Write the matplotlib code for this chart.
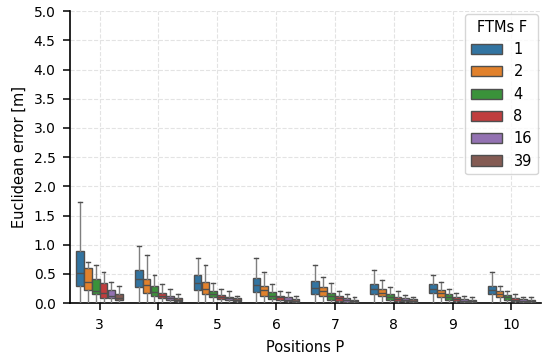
import matplotlib.pyplot as plt
import matplotlib.patches as mpatches
import numpy as np

# Positions P on the x axis, FTMs F as hue
positions = [3, 4, 5, 6, 7, 8, 9, 10]
ftms = [1, 2, 4, 8, 16, 39]
colors = ['#3274a1', '#e1812c', '#3a923a', '#c03d3e', '#9372b2', '#845b53']

# box stats, one row per FTM, one column per position
q1 = [
    [0.29, 0.27, 0.22, 0.19, 0.16, 0.15, 0.17, 0.15],
    [0.22, 0.17, 0.15, 0.13, 0.13, 0.12, 0.11, 0.10],
    [0.15, 0.13, 0.10, 0.07, 0.06, 0.06, 0.06, 0.06],
    [0.09, 0.08, 0.07, 0.05, 0.04, 0.04, 0.04, 0.03],
    [0.08, 0.05, 0.05, 0.03, 0.02, 0.03, 0.02, 0.02],
    [0.05, 0.04, 0.03, 0.02, 0.02, 0.02, 0.02, 0.02],
]
med = [
    [0.52, 0.42, 0.34, 0.31, 0.26, 0.24, 0.25, 0.23],
    [0.36, 0.31, 0.25, 0.22, 0.21, 0.18, 0.17, 0.15],
    [0.21, 0.19, 0.15, 0.12, 0.12, 0.11, 0.11, 0.10],
    [0.17, 0.12, 0.10, 0.10, 0.08, 0.07, 0.07, 0.06],
    [0.13, 0.09, 0.08, 0.06, 0.06, 0.05, 0.04, 0.04],
    [0.08, 0.06, 0.05, 0.04, 0.04, 0.04, 0.03, 0.03],
]
q3 = [
    [0.89, 0.57, 0.48, 0.43, 0.38, 0.32, 0.33, 0.30],
    [0.60, 0.42, 0.36, 0.30, 0.28, 0.24, 0.22, 0.20],
    [0.41, 0.29, 0.21, 0.19, 0.18, 0.16, 0.15, 0.14],
    [0.34, 0.18, 0.14, 0.13, 0.12, 0.11, 0.10, 0.09],
    [0.22, 0.13, 0.11, 0.10, 0.09, 0.09, 0.07, 0.07],
    [0.16, 0.09, 0.08, 0.07, 0.06, 0.07, 0.06, 0.06],
]
whishi = [
    [1.73, 0.98, 0.77, 0.77, 0.65, 0.56, 0.48, 0.53],
    [0.70, 0.82, 0.65, 0.54, 0.44, 0.39, 0.36, 0.30],
    [0.65, 0.48, 0.35, 0.32, 0.34, 0.27, 0.24, 0.21],
    [0.53, 0.33, 0.24, 0.20, 0.20, 0.20, 0.18, 0.15],
    [0.37, 0.24, 0.20, 0.19, 0.16, 0.14, 0.13, 0.11],
    [0.30, 0.15, 0.13, 0.13, 0.11, 0.10, 0.10, 0.10],
]
whislo = 0.01

plt.rcParams['axes.linewidth'] = 1.2
plt.rcParams['xtick.major.size'] = 5
plt.rcParams['ytick.major.size'] = 5
plt.rcParams['xtick.major.width'] = 1.1
plt.rcParams['ytick.major.width'] = 1.1
plt.rcParams['xtick.major.pad'] = 5.5
plt.rcParams['ytick.major.pad'] = 5.5

fig, ax = plt.subplots(figsize=(5.44, 3.6), dpi=100)

edge = '#4f4f4f'
whisk = '#7f7f7f'
n = len(ftms)
w = 0.8 / n
for j, f in enumerate(ftms):
    stats = []
    xs = []
    for i, p in enumerate(positions):
        stats.append(dict(med=med[j][i], q1=q1[j][i], q3=q3[j][i],
                          whislo=whislo, whishi=whishi[j][i], fliers=[]))
        xs.append(i + (j - (n - 1) / 2) * w)
    ax.bxp(stats, positions=xs, widths=w * 0.98, patch_artist=True,
           showfliers=False, capwidths=w * 0.5,
           boxprops=dict(facecolor=colors[j], edgecolor=edge, linewidth=1.0),
           medianprops=dict(color=edge, linewidth=1.0),
           whiskerprops=dict(color=whisk, linewidth=1.0),
           capprops=dict(color=edge, linewidth=1.0),
           manage_ticks=False, zorder=3)

ax.set_xlim(-0.5, len(positions) - 0.5)
ax.set_ylim(0, 5.0)
ax.set_yticks(np.arange(0, 5.01, 0.5))
ax.set_yticklabels([f'{v:.1f}' for v in np.arange(0, 5.01, 0.5)])
ax.set_xticks(range(len(positions)))
ax.set_xticklabels([str(p) for p in positions])
ax.tick_params(labelsize=10)
ax.set_xlabel('Positions P', fontsize=10.5, labelpad=6)
ax.set_ylabel('Euclidean error [m]', fontsize=10.5, labelpad=5)
ax.grid(True, linestyle='--', color='#e3e3e3', linewidth=0.8, zorder=0)
ax.set_axisbelow(True)
for s in ['top', 'right']:
    ax.spines[s].set_visible(False)

handles = [mpatches.Patch(facecolor=c, edgecolor=edge, label=str(f))
           for c, f in zip(colors, ftms)]
ax.legend(handles=handles, title='FTMs F', loc='upper right', fontsize=10.5,
          title_fontsize=10.5, handlelength=2.1, framealpha=0.8,
          borderaxespad=0.2)

fig.subplots_adjust(left=0.129, right=0.994, top=0.969, bottom=0.158)
plt.savefig('out.png', dpi=100)
